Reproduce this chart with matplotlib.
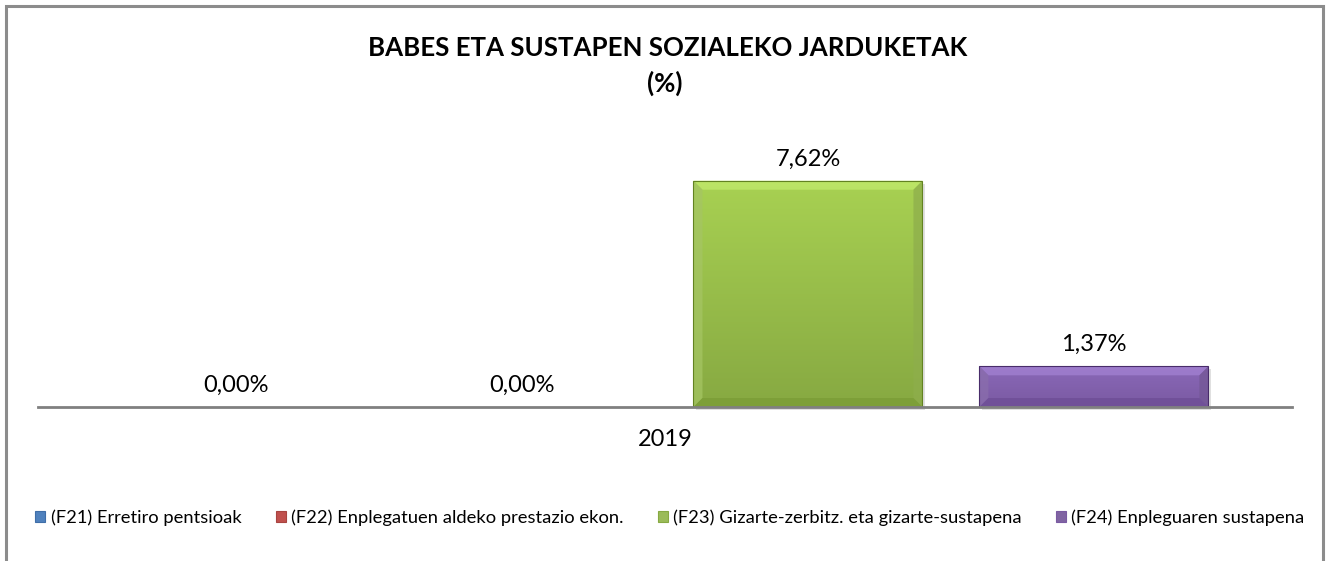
import numpy as np
import matplotlib
matplotlib.use("Agg")
import matplotlib.pyplot as plt
from matplotlib.patches import Polygon, Rectangle, Patch
from matplotlib.colors import LinearSegmentedColormap, to_rgb

# ---- data ----
title_line1 = "BABES ETA SUSTAPEN SOZIALEKO JARDUKETAK"
title_line2 = "(%)"
category = "2019"
series_names = [
    "(F21) Erretiro pentsioak",
    "(F22) Enplegatuen aldeko prestazio ekon.",
    "(F23) Gizarte-zerbitz. eta gizarte-sustapena",
    "(F24) Enpleguaren sustapena",
]
values = [0.00, 0.00, 7.62, 1.37]
colors = ["#4F81BD", "#C0504D", "#9BBB59", "#8064A2"]
top_colors = ["#5b8fd0", "#d05a56", "#a8d152", "#8a68b8"]
bottom_colors = ["#3f6ea8", "#a84440", "#87a942", "#7a5aa2"]

plt.rcParams['font.family'] = ['Lato', 'DejaVu Sans']

W, H = 1329, 561
fig = plt.figure(figsize=(W / 100, H / 100), dpi=100)
ax = fig.add_axes([38 / W, 154 / H, 1254 / W, 297 / H])

n = len(values)
step = 0.228
width = 0.1826
x0 = 0.0
offsets = [(i - (n - 1) / 2) * step for i in range(n)]

ax.set_xlim(-0.5, 0.5)
ax.set_ylim(0, 10)
px_x = 1.0 / 1254   # data units per pixel in x
px_y = 10.0 / 297   # data units per pixel in y

bars = []
for i, (name, v) in enumerate(zip(series_names, values)):
    b = ax.bar(x0 + offsets[i], v, width, color=colors[i], label=name,
               edgecolor="none", zorder=2)
    bars.append(b)
    rect = b.patches[0]
    if v > 0:
        xl, xr = rect.get_x(), rect.get_x() + rect.get_width()
        yb, yt = 0, v
        # soft shadow
        ax.add_patch(Rectangle((xl + 3 * px_x, yb - 3 * px_y), xr - xl, yt - yb,
                               facecolor="#000000", alpha=0.12,
                               edgecolor="none", zorder=1.5, clip_on=False))
        # vertical gradient fill
        cmap = LinearSegmentedColormap.from_list(
            "g%d" % i, [bottom_colors[i], top_colors[i]])
        grad = np.linspace(0, 1, 256).reshape(-1, 1)
        im = ax.imshow(grad, cmap=cmap, aspect="auto", origin="lower",
                       extent=[xl, xr, yb, yt], zorder=2.5)
        im.set_clip_path(rect)
        # bevel edges
        bx = 9 * px_x
        by = 9 * px_y
        base_t = np.array(to_rgb(top_colors[i]))
        base_b = np.array(to_rgb(bottom_colors[i]))
        base = np.array(to_rgb(colors[i]))
        polys = [
            ([(xl, yt), (xr, yt), (xr - bx, yt - by), (xl + bx, yt - by)],
             tuple(np.clip(base_t + 0.10, 0, 1))),
            ([(xl, yb), (xl, yt), (xl + bx, yt - by), (xl + bx, yb + by)],
             tuple(np.clip(base + 0.04, 0, 1))),
            ([(xr, yb), (xr, yt), (xr - bx, yt - by), (xr - bx, yb + by)],
             tuple(np.clip(base - 0.05, 0, 1))),
            ([(xl, yb), (xr, yb), (xr - bx, yb + by), (xl + bx, yb + by)],
             tuple(np.clip(base_b - 0.05, 0, 1))),
        ]
        for pts, c in polys:
            ax.add_patch(Polygon(pts, closed=True, facecolor=c,
                                 edgecolor="none", zorder=3, alpha=0.75))
        ax.add_patch(Rectangle((xl, yb), xr - xl, yt - yb, fill=False,
                               edgecolor=tuple(np.clip(base - 0.22, 0, 1)),
                               linewidth=0.8, zorder=3.5))
    ax.text(x0 + offsets[i], v + 11 * px_y, ("%.2f%%" % v).replace(".", ","),
            ha="center", va="bottom", fontsize=17, color="#000000", zorder=4)

for s in ["top", "right", "left"]:
    ax.spines[s].set_visible(False)
ax.spines["bottom"].set_color("#808080")
ax.spines["bottom"].set_linewidth(2)
ax.spines["bottom"].set_zorder(5)
ax.set_yticks([])
ax.set_xticks([x0])
ax.set_xticklabels([category], fontsize=17)
ax.tick_params(axis="x", length=0, pad=16)

fig.text(668 / W, 1 - 48 / H, title_line1,
         ha="center", va="center", fontsize=18.6, fontweight="bold")
fig.text(665 / W, 1 - 83 / H, title_line2, ha="center", va="center",
         fontsize=18.6, fontweight="bold")

# legend
handles = [Patch(facecolor=c, edgecolor=bottom_colors[i], linewidth=0.8)
           for i, c in enumerate(colors)]
leg = fig.legend(handles, series_names, loc="center", ncol=4,
                 bbox_to_anchor=(670 / W, 1 - 518 / H), frameon=False,
                 fontsize=13.2, handlelength=0.55, handleheight=0.55,
                 handletextpad=0.3, columnspacing=1.85)

# outer frame
frame = Rectangle((6 / W, -0.1), (1323 - 6) / W, 1 - 6 / H + 0.1,
                  transform=fig.transFigure, fill=False,
                  edgecolor="#8c8c8c", linewidth=2.2)
fig.patches.append(frame)

fig.savefig("out.png", dpi=100)
